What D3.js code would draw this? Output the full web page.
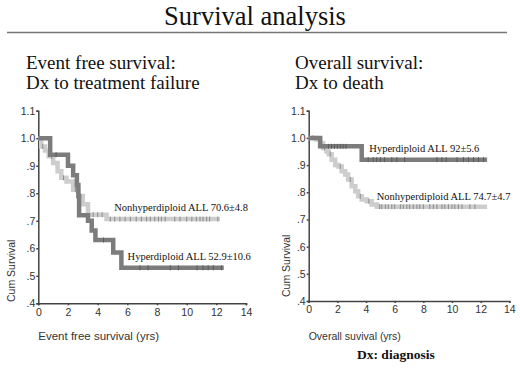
<html>
<head>
  <meta charset="utf-8">
  <script src="https://d3js.org/d3.v7.min.js"></script>
  <style>
    body { margin: 0; background: white; }
  </style>
  <script>
    // ticks
    var xTicks = [0, 2, 4, 6, 8, 10, 12, 14];
    var yTicks = [0.4, 0.5, 0.6, 0.7, 0.8, 0.9, 1.0, 1.1];
    var yTickLabels = [".4", ".5", ".6", ".7", ".8", ".9", "1.0", "1.1"];

    // event free survival, hyperdiploid (step times / survival after step)
    var efsHyperT = [0, 0.8, 2.0, 2.35, 2.6, 2.7, 2.75, 3.35, 3.6, 3.85, 5.05, 5.6];
    var efsHyperS = [1.0, 0.94, 0.90, 0.865, 0.83, 0.79, 0.72, 0.70, 0.665, 0.63, 0.585, 0.529];
    var efsHyperEnd = 12.5;
    var efsHyperCens = [1.2, 4.4, 6.85, 7.4, 8.9, 9.45, 10.7, 11.1, 11.45, 11.8, 12.35];

    // event free survival, nonhyperdiploid
    var efsNonT = [0, 0.2, 0.45, 0.7, 1.0, 1.3, 1.55, 1.9, 2.35, 2.7, 3.0, 3.35, 4.6];
    var efsNonS = [1.0, 0.97, 0.955, 0.934, 0.91, 0.88, 0.856, 0.843, 0.813, 0.79, 0.76, 0.722, 0.706];
    var efsNonEnd = 12.25;
    var efsNonCens = [0.3, 0.9, 1.7, 2.5, 3.7, 4.0, 4.3, 4.85, 5.15, 5.5, 5.85, 6.2, 6.6, 6.95, 7.3, 7.55,
                      7.85, 8.1, 8.3, 8.55, 9.2, 9.55, 10.0, 10.35, 10.65, 10.9, 11.1, 11.35, 11.55, 12.1];

    // overall survival, hyperdiploid
    var osHyperT = [0, 0.8, 3.7];
    var osHyperS = [1.0, 0.969, 0.92];
    var osHyperEnd = 12.45;
    var osHyperCens = [1.4, 1.6, 1.8, 2.0, 2.2, 2.4, 2.6, 4.15, 4.5, 4.75, 5.0, 5.3, 5.8, 6.15, 6.7,
                       8.95, 9.3, 9.6, 10.35, 10.8, 11.15, 11.5, 11.85, 12.2];

    // overall survival, nonhyperdiploid
    var osNonT = [0, 0.55, 0.8, 1.0, 1.25, 1.4, 1.6, 1.85, 2.05, 2.3, 2.55, 2.75, 3.0, 3.25, 3.45, 3.7, 4.05, 4.4, 4.75];
    var osNonS = [1.0, 0.994, 0.98, 0.963, 0.95, 0.94, 0.92, 0.90, 0.895, 0.877, 0.865, 0.847, 0.822, 0.804, 0.785, 0.773, 0.767, 0.755, 0.747];
    var osNonEnd = 12.45;
    var osNonCens = [0.3, 1.1, 1.5, 2.2, 2.9, 3.6, 4.2, 4.95, 5.1, 5.35, 5.55, 5.8, 6.0, 6.4, 6.6, 6.85, 7.05,
                     7.3, 7.55, 7.75, 8.0, 8.45, 8.7, 8.95, 9.3, 9.5, 9.75, 10.0, 10.2, 10.45, 10.7, 11.25, 11.6];

    var panels = [
      { left: 38.3, right: 246, top: 110.7, bottom: 303.3,
        sub1: "Event free survival:", sub2: "Dx to treatment failure", subX: 26,
        xTitle: "Event free survival (yrs)", xTitleSize: 11.5, yTitleX: 15, yTitleY: 302,
        series: [
          { t: efsNonT, s: efsNonS, end: efsNonEnd, cens: efsNonCens, color: "#cdcdcd", mark: "#8c8c8c",
            label: "Nonhyperdiploid ALL 70.6\u00b14.8", lx: 5.12, ly: 0.735 },
          { t: efsHyperT, s: efsHyperS, end: efsHyperEnd, cens: efsHyperCens, color: "#7c7c7c", mark: "#5a5a5a",
            label: "Hyperdiploid ALL 52.9\u00b110.6", lx: 6.02, ly: 0.558 }
        ] },
      { left: 308.7, right: 509.3, top: 110.7, bottom: 301,
        sub1: "Overall survival:", sub2: "Dx to death", subX: 295,
        xTitle: "Overall suvival (yrs)", xTitleSize: 10.5, yTitleX: 289.5, yTitleY: 297,
        series: [
          { t: osNonT, s: osNonS, end: osNonEnd, cens: osNonCens, color: "#cdcdcd", mark: "#8c8c8c",
            label: "Nonhyperdiploid ALL 74.7\u00b14.7", lx: 4.75, ly: 0.773 },
          { t: osHyperT, s: osHyperS, end: osHyperEnd, cens: osHyperCens, color: "#7c7c7c", mark: "#5a5a5a",
            label: "Hyperdiploid ALL 92\u00b15.6", lx: 4.23, ly: 0.947 }
        ] }
    ];

    function makeChart() {
      var svg = d3.select("#chart");

      svg.append("text").attr("x", 255).attr("y", 25)
        .attr("text-anchor", "middle").attr("font-family", "Liberation Serif").attr("font-size", 26.5)
        .attr("fill", "#111").text("Survival analysis");
      svg.append("line").attr("x1", 7).attr("x2", 507).attr("y1", 32.5).attr("y2", 32.5)
        .attr("stroke", "#777").attr("stroke-width", 1.5);

      svg.append("text").attr("x", 357).attr("y", 359)
        .attr("font-family", "Liberation Serif").attr("font-weight", "bold").attr("font-size", 13.5)
        .attr("fill", "#111").text("Dx: diagnosis");

      panels.forEach(function(p) {
        var g = svg.append("g");
        var x = d3.scaleLinear().domain([0, 14]).range([p.left, p.right]);
        var y = d3.scaleLinear().domain([0.4, 1.1]).range([p.bottom, p.top]);

        g.append("text").attr("x", p.subX).attr("y", 69)
          .attr("font-family", "Liberation Serif").attr("font-size", 19).attr("fill", "#111").text(p.sub1);
        g.append("text").attr("x", p.subX).attr("y", 89)
          .attr("font-family", "Liberation Serif").attr("font-size", 19).attr("fill", "#111").text(p.sub2);

        var ax = g.append("g").attr("transform", "translate(0," + p.bottom + ")")
          .call(d3.axisBottom(x).tickValues(xTicks).tickSize(2).tickPadding(3));
        var ay = g.append("g").attr("transform", "translate(" + p.left + ",0)")
          .call(d3.axisLeft(y).tickValues(yTicks).tickSize(2).tickPadding(1)
                .tickFormat(function(d, i) { return yTickLabels[i]; }));
        [ax, ay].forEach(function(a) {
          a.select(".domain").attr("stroke", "#444").attr("stroke-width", 1.5);
          a.selectAll(".tick line").attr("stroke", "#444").attr("stroke-width", 1.5);
          a.selectAll("text").attr("font-family", "Liberation Sans").attr("font-size", 10.5).attr("fill", "#333");
        });

        g.append("text").attr("transform", "translate(" + p.yTitleX + "," + p.yTitleY + ") rotate(-90)")
          .attr("font-family", "Liberation Sans").attr("font-size", 10.5).attr("fill", "#333").text("Cum Survival");
        g.append("text").attr("x", p.left).attr("y", 340)
          .attr("font-family", "Liberation Sans").attr("font-size", p.xTitleSize).attr("fill", "#333").text(p.xTitle);

        var line = d3.line().x(function(d) { return x(d[0]); }).y(function(d) { return y(d[1]); })
          .curve(d3.curveStepAfter);

        p.series.forEach(function(s) {
          var pts = s.t.map(function(t, i) { return [t, s.s[i]]; });
          pts.push([s.end, s.s[s.s.length - 1]]);
          g.append("path").datum(pts).attr("d", line)
            .attr("fill", "none").attr("stroke", s.color).attr("stroke-width", 4.5);

          var survAt = function(t) {
            var v = s.s[0];
            s.t.forEach(function(tt, i) { if (tt <= t) v = s.s[i]; });
            return v;
          };
          g.selectAll(null).data(s.cens).enter().append("line")
            .attr("x1", function(d) { return x(d); }).attr("x2", function(d) { return x(d); })
            .attr("y1", function(d) { return y(survAt(d)) - 2.5; })
            .attr("y2", function(d) { return y(survAt(d)) + 2.5; })
            .attr("stroke", s.mark).attr("stroke-width", 1);

          g.append("text").attr("x", x(s.lx)).attr("y", y(s.ly))
            .attr("font-family", "Liberation Serif").attr("font-size", 10.5).attr("fill", "#111").text(s.label);
        });
      });
    }
  </script>
</head>
<body onload="makeChart()">
  <svg id="chart" width="520" height="368"></svg>
</body>
</html>
